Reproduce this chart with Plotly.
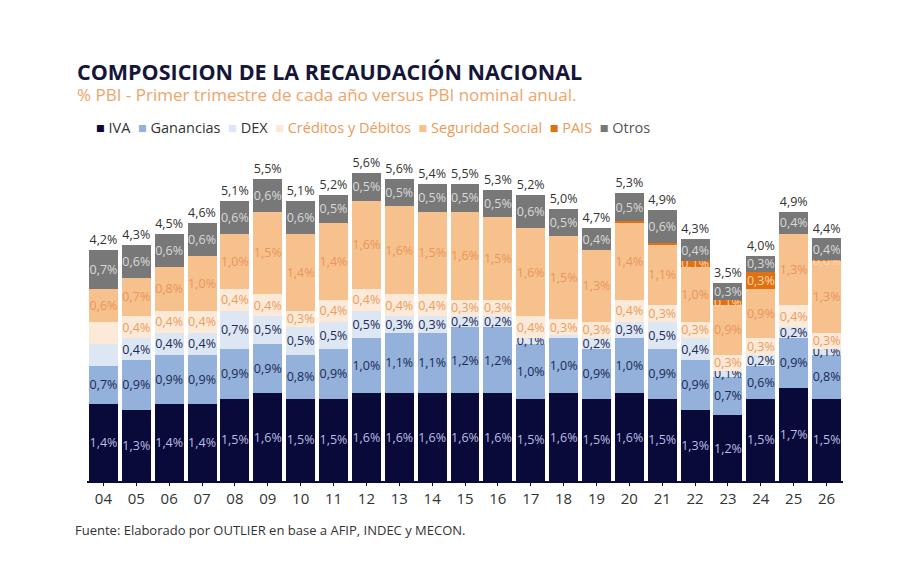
import plotly.graph_objects as go

years = ["04", "05", "06", "07", "08", "09", "10", "11", "12", "13", "14", "15",
         "16", "17", "18", "19", "20", "21", "22", "23", "24", "25", "26"]
iva = [1.4, 1.3, 1.4, 1.4, 1.5, 1.6, 1.5, 1.5, 1.6, 1.6, 1.6, 1.6, 1.6, 1.5, 1.6, 1.5, 1.6, 1.5, 1.3, 1.2, 1.5, 1.7, 1.5]
ganancias = [0.7, 0.9, 0.9, 0.9, 0.9, 0.9, 0.8, 0.9, 1.0, 1.1, 1.1, 1.2, 1.2, 1.0, 1.0, 0.9, 1.0, 0.9, 0.9, 0.7, 0.6, 0.9, 0.8]
dex = [0.4, 0.4, 0.4, 0.4, 0.7, 0.5, 0.5, 0.5, 0.5, 0.3, 0.3, 0.2, 0.2, 0.1, 0.05, 0.2, 0.3, 0.5, 0.4, 0.1, 0.2, 0.2, 0.1]
creditos = [0.4, 0.4, 0.4, 0.4, 0.4, 0.4, 0.3, 0.4, 0.4, 0.4, 0.4, 0.3, 0.3, 0.4, 0.3, 0.3, 0.4, 0.3, 0.3, 0.3, 0.3, 0.4, 0.3]
seguridad = [0.6, 0.7, 0.8, 1.0, 1.0, 1.5, 1.4, 1.4, 1.6, 1.6, 1.5, 1.6, 1.5, 1.6, 1.5, 1.3, 1.4, 1.1, 1.0, 0.9, 0.9, 1.3, 1.3]
pais = [0, 0, 0, 0, 0, 0, 0, 0, 0, 0, 0, 0, 0, 0, 0, 0, 0.03, 0.03, 0.1, 0.1, 0.3, 0, 0.01]
otros = [0.7, 0.6, 0.6, 0.6, 0.6, 0.6, 0.6, 0.5, 0.5, 0.5, 0.5, 0.5, 0.5, 0.6, 0.5, 0.4, 0.5, 0.6, 0.4, 0.3, 0.3, 0.4, 0.4]
totals = ["4,2", "4,3", "4,5", "4,6", "5,1", "5,5", "5,1", "5,2", "5,6", "5,6", "5,4", "5,5",
          "5,3", "5,2", "5,0", "4,7", "5,3", "4,9", "4,3", "3,5", "4,0", "4,9", "4,4"]

# segments whose value label is not shown in the original
hidden = {"DEX": ["04", "18"], "Créditos y Débitos": ["04"], "PAIS": ["20", "21"]}

FONT = "Open Sans"
series = [
    ("IVA", iva, "#09093a", "#b9bde0"),
    ("Ganancias", ganancias, "#93b1da", "#1c2a55"),
    ("DEX", dex, "#dde6f3", "#1c2a55"),
    ("Créditos y Débitos", creditos, "#fde9d8", "#ec9d5c"),
    ("Seguridad Social", seguridad, "#f7c18e", "#e9965a"),
    ("PAIS", pais, "#e2700f", "#fbd6b8"),
    ("Otros", otros, "#787878", "#d9d9d9"),
]


def fmt(v):
    return f"{v:.1f}".replace(".", ",") + "%"


fig = go.Figure()
for name, vals, color, tcolor in series:
    texts = []
    for y, v in zip(years, vals):
        if v <= 0 or y in hidden.get(name, []):
            texts.append("")
        else:
            texts.append(fmt(v))
    fig.add_trace(go.Bar(
        x=years, y=vals, name=name, marker=dict(color=color, line=dict(width=0)),
        text=texts, textposition="inside", insidetextanchor="middle",
        textangle=0, constraintext="none",
        textfont=dict(family=FONT, size=12.5, color=tcolor),
        showlegend=False, hoverinfo="skip",
    ))

stack = [sum(s[1][i] for s in series) for i in range(len(years))]
fig.add_trace(go.Scatter(
    x=years, y=[s + 0.05 for s in stack], mode="text",
    text=[t + "%" for t in totals], textposition="top center",
    textfont=dict(family=FONT, size=12.5, color="#333333"),
    showlegend=False, hoverinfo="skip",
))

# legend row
legend_colors_text = {
    "IVA": "#333333", "Ganancias": "#333333", "DEX": "#333333",
    "Créditos y Débitos": "#ec9a55", "Seguridad Social": "#ec9a55",
    "PAIS": "#ec9a55", "Otros": "#555555",
}
parts = []
for name, vals, color, tcolor in series:
    parts.append(f"<span style='color:{color}'>■</span>\u00a0"
                 f"<span style='color:{legend_colors_text[name]}'>{name}</span>")
legend_text = "\u00a0\u00a0".join(parts)

fig.add_annotation(text=legend_text, xref="paper", yref="paper", x=(94 - 86.5) / 756.5,
                   y=(481 - 127) / 330, xanchor="left", yanchor="middle", showarrow=False,
                   font=dict(family=FONT, size=14.5, color="#333333"))

fig.add_annotation(text="<b>COMPOSICION DE LA RECAUDACIÓN NACIONAL</b>", xref="paper", yref="paper",
                   x=(74 - 86.5) / 756.5, y=(481 - 71) / 330, xanchor="left", yanchor="middle",
                   showarrow=False, font=dict(family=FONT, size=21.5, color="#15153a"))
fig.add_annotation(text="% PBI - Primer trimestre de cada año versus PBI nominal anual.",
                   xref="paper", yref="paper", x=(74 - 86.5) / 756.5, y=(481 - 94) / 330,
                   xanchor="left", yanchor="middle", showarrow=False,
                   font=dict(family=FONT, size=17, color="#f0a468"))
fig.add_annotation(text="Fuente: Elaborado por OUTLIER en base a AFIP, INDEC y MECON.",
                   xref="paper", yref="paper", x=(72 - 86.5) / 756.5, y=(481 - 530) / 330,
                   xanchor="left", yanchor="middle", showarrow=False,
                   font=dict(family=FONT, size=13, color="#333333"))

fig.update_layout(
    width=912, height=562,
    margin=dict(l=86.5, r=69, t=151, b=81, pad=0),
    barmode="stack", bargap=0.12,
    plot_bgcolor="white", paper_bgcolor="white",
    uniformtext=dict(minsize=12.5, mode="show"),
    font=dict(family=FONT),
    xaxis=dict(type="category", range=[-0.5, len(years) - 0.5], showline=True,
               linecolor="#09093a", linewidth=2,
               ticks="outside", ticklen=3, tickcolor="#09093a", showgrid=False,
               tickfont=dict(family=FONT, size=15, color="#333333")),
    yaxis=dict(range=[0, 6.0], visible=False, showgrid=False),
)

fig.write_html("out.html")
